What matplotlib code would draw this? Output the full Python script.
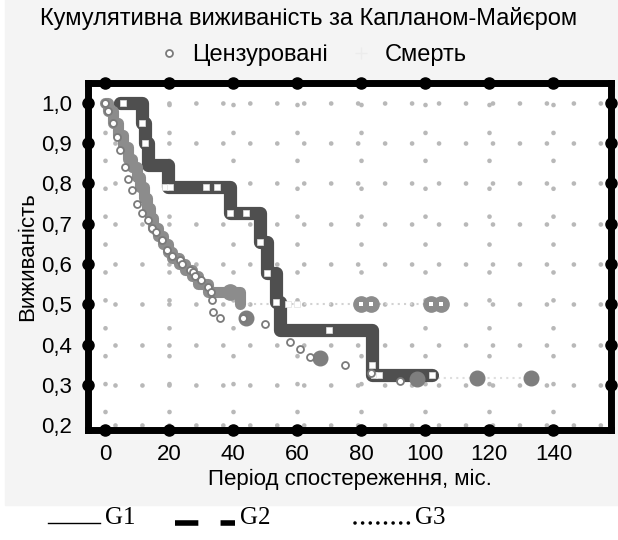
import numpy as np
import matplotlib.pyplot as plt
from matplotlib.patches import Rectangle
from matplotlib.lines import Line2D

plt.rcParams['font.family'] = ['Liberation Sans', 'DejaVu Sans']

#################################
##        Data (read off)      ##
#################################

title = "Кумулятивна виживаність за Капланом-Майєром"
x_label = "Період спостереження, міс."
y_label = "Виживаність"

x_ticks = [0, 20, 40, 60, 80, 100, 120, 140]
y_ticks = [0.2, 0.3, 0.4, 0.5, 0.6, 0.7, 0.8, 0.9, 1.0]
y_tick_labels = ["0,2", "0,3", "0,4", "0,5", "0,6", "0,7", "0,8", "0,9", "1,0"]

# G1 - medium grey curve, plateau at 0.5
g1_t = [0, 1, 2.5, 4, 5.5, 7, 8.5, 10, 11, 12, 13, 14, 15, 16.5, 18, 19.5, 21, 23, 25, 27, 29, 32, 42, 105]
g1_s = [1.0, 0.98, 0.95, 0.92, 0.89, 0.86, 0.84, 0.815, 0.79, 0.765, 0.74, 0.715, 0.69, 0.67, 0.65,
        0.63, 0.615, 0.6, 0.585, 0.57, 0.55, 0.53, 0.5, 0.5]
g1_cens_t = [39, 79.8, 83, 101.8, 105]
g1_cens_s = [0.53, 0.5, 0.5, 0.5, 0.5]

# G2 - dark thick step curve
g2_t = [4.5, 11.5, 12.5, 13.4, 19.7, 39, 48.4, 50.5, 53.5, 54.5, 83.4, 102]
g2_s = [1.0, 0.95, 0.90, 0.846, 0.79, 0.727, 0.655, 0.578, 0.506, 0.437, 0.325, 0.325]
g2_cens_t = [5.6, 11.5, 12.5, 18.7, 20.3, 31.6, 35, 39, 44, 48.4, 50.5, 53.5, 57, 60, 70, 83.4, 84, 85.6, 102]
g2_cens_s = [1.0, 0.95, 0.9, 0.79, 0.79, 0.79, 0.79, 0.727, 0.727, 0.655, 0.578, 0.506, 0.5, 0.5,
             0.437, 0.35, 0.325, 0.325, 0.325]

# G3 - chain of small open circles
g3_t = [0, 1, 2.5, 3.75, 4.7, 6.25, 7.2, 8.4, 10, 11.6, 13.4, 14.7, 16, 17.8, 19.4, 21, 23.4, 24,
        26.5, 27.5, 28, 30, 32, 33, 33.4, 33.8, 36, 43, 50, 57.8, 61, 64, 75, 83, 92]
g3_s = [1.0, 0.98, 0.95, 0.916, 0.883, 0.84, 0.81, 0.784, 0.75, 0.727, 0.71, 0.69, 0.68, 0.66,
        0.635, 0.62, 0.61, 0.6, 0.586, 0.58, 0.57, 0.56, 0.544, 0.53, 0.51, 0.48, 0.466, 0.466,
        0.45, 0.407, 0.39, 0.37, 0.35, 0.33, 0.31]
g3_big_t = [44, 67, 97.5, 116, 133]
g3_big_s = [0.466, 0.367, 0.315, 0.318, 0.318]
g3_tail_t = [92, 133]
g3_tail_s = [0.318, 0.318]

legend_labels = ["Цензуровані", "Смерть"]
group_labels = ["G1", "G2", "G3"]

#################################
##           Figure            ##
#################################

fig = plt.figure(figsize=(6.18, 5.40), dpi=100)
fig.patches.append(Rectangle((5 / 618, 35 / 540), 1, 1, transform=fig.transFigure,
                             color='#f4f4f4', zorder=-5))
ax = fig.add_axes([0.1432, 0.2037, 0.9887 - 0.1432, 0.8454 - 0.2037])
ax.set_facecolor('white')
ax.set_xlim(-5.2, 158)
ax.set_ylim(0.188, 1.048)

# dotted grid
ax.set_xticks(x_ticks)
ax.set_yticks(y_ticks)
ax.xaxis.grid(True, color='#b8b8b8', linewidth=3.4, linestyle=(2, (0.01, 5.9)),
              dash_capstyle='round', zorder=0)
ax.yaxis.grid(True, color='#b8b8b8', linewidth=3.4, linestyle=(0, (0.01, 5.7)),
              dash_capstyle='round', zorder=0)
ax.set_axisbelow(True)

# curves
ax.step(g2_t, g2_s, where='post', color='#4f4f4f', linewidth=9.5,
        solid_joinstyle='round', solid_capstyle='round', zorder=3)
ax.plot(g2_cens_t, g2_cens_s, 's', ms=4.2, mfc='white', mec='#e0e0e0', mew=0.5, zorder=4)

g1_t_arr = np.array(g1_t)
g1_s_arr = np.array(g1_s)
ax.step(g1_t, g1_s, where='post', color='#d2d2d2', linewidth=1.5, linestyle=(0, (1, 2)), zorder=2)
head = g1_t_arr <= 42
ax.step(g1_t_arr[head], g1_s_arr[head], where='post', color='#8c8c8c', linewidth=8,
        solid_joinstyle='round', solid_capstyle='round', zorder=5)
ax.plot(g1_cens_t, g1_cens_s, 'o', ms=11, color='#8c8c8c', zorder=5)
ax.plot(g1_cens_t[1:], g1_cens_s[1:], 's', ms=3.5, mfc='white', mec='white', mew=0, zorder=6)

ax.plot(g3_tail_t, g3_tail_s, color='#dedede', linewidth=1.5, linestyle=(0, (1, 2)), zorder=2)
ax.plot(g3_big_t, g3_big_s, 'o', ms=10.5, color='#7e7e7e', zorder=5)
ax.plot(g3_t, g3_s, 'o', ms=5, mfc='white', mec='#7a7a7a', mew=1.3, zorder=7)

# frame and dot ticks
for sp in ax.spines.values():
    sp.set_linewidth(5)
    sp.set_color('black')
ax.tick_params(length=0, labelsize=16, pad=10)
ax.set_yticklabels(y_tick_labels)
ax.tick_params(axis='y', pad=12)
xt = np.array(x_ticks)
yt = np.array(y_ticks)
for yy in (0, 1):
    ax.plot(xt, np.full(len(xt), yy), 'o', color='black', ms=8,
            transform=ax.get_xaxis_transform(), clip_on=False, zorder=10)
for xx in (0, 1):
    ax.plot(np.full(len(yt) - 1, xx), yt[1:], 'o', color='black', ms=8,
            transform=ax.get_yaxis_transform(), clip_on=False, zorder=10)

ax.set_xlabel(x_label, fontsize=16, labelpad=3)
ax.set_ylabel(y_label, fontsize=16, labelpad=2)

fig.text(0.5, 1 - 19 / 540, title, ha='center', va='center', fontsize=17)

top_handles = [
    Line2D([], [], linestyle='none', marker='o', ms=5, mfc='white', mec='#7a7a7a', mew=1.3),
    Line2D([], [], linestyle='none', marker='+', ms=8, color='#ececec', mew=1),
]
fig.legend(top_handles, legend_labels, loc='center', bbox_to_anchor=(0.505, 1 - 55 / 540),
           ncol=2, frameon=False, fontsize=17, handlelength=1.0, columnspacing=0.9,
           handletextpad=0.5)

# bottom group key (drawn by hand in figure pixels)
key_styles = [
    dict(color='black', linewidth=1),
    dict(color='black', linewidth=4, linestyle=(0, (4.2, 4.0))),
    dict(color='black', linewidth=2.6, linestyle=(0, (0.01, 2.1)), dash_capstyle='round'),
]
key_x0 = [48, 175, 355]
key_len = [52, 60, 55]
key_y = 1 - 518 / 540
for x0, ln, st, lab in zip(key_x0, key_len, key_styles, group_labels):
    fig.add_artist(Line2D([x0 / 618, (x0 + ln) / 618], [key_y - 0.009, key_y - 0.009],
                          transform=fig.transFigure, **st))
    fig.text((x0 + ln + 5) / 618, key_y, lab, ha='left', va='center',
             family='Liberation Serif', fontsize=18)

fig.savefig('out.png', dpi=100, facecolor='white')
